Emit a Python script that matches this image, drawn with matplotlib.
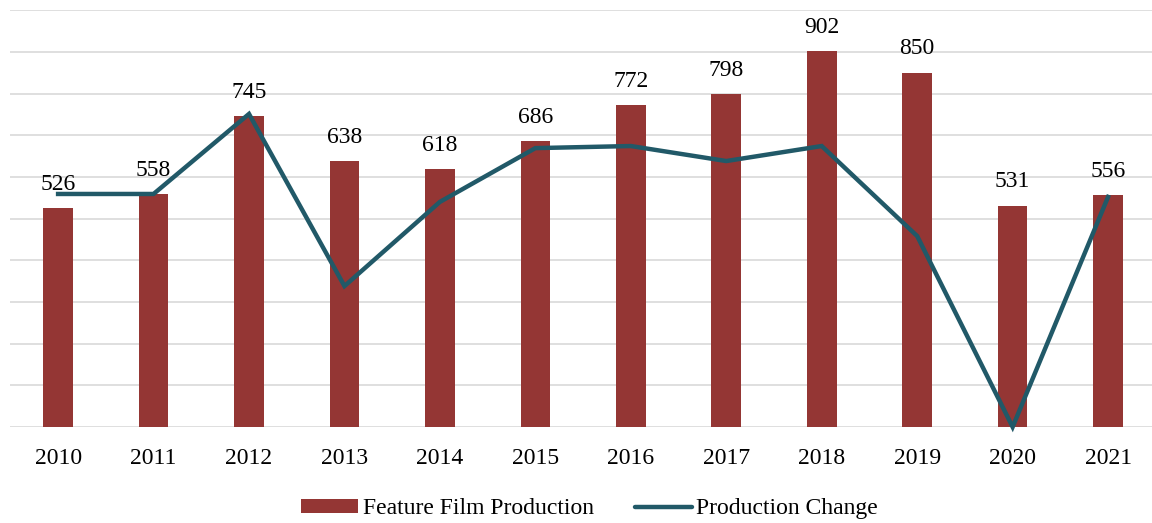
import matplotlib.pyplot as plt
from matplotlib.lines import Line2D
from matplotlib.patches import Patch

plt.rcParams['font.family'] = ['Liberation Serif', 'DejaVu Serif']

# Data.
years = ['2010', '2011', '2012', '2013', '2014', '2015',
         '2016', '2017', '2018', '2019', '2020', '2021']
production = [526, 558, 745, 638, 618, 686, 772, 798, 902, 850, 531, 556]
# Line on a hidden secondary axis (range -40 .. 60).
change = [15.9, 15.9, 35.1, -6.2, 14.0, 26.9, 27.4, 23.8, 27.4, 5.8, -40.0, 15.2]

bar_color = '#943634'
line_color = '#215968'
fs = 17

fig = plt.figure(figsize=(11.52, 5.23), dpi=100)
ax = fig.add_axes([0.009, 0.1836, 0.9943, 0.797])

x = list(range(len(years)))
ax.bar(x, production, width=0.31, color=bar_color, zorder=2)

ax.set_xlim(-0.5, len(years) - 0.5)
ax.set_ylim(0, 1000)
ax.set_yticks(range(0, 1001, 100))
ax.yaxis.grid(True, color='#d9d9d9', linewidth=1.2, zorder=0)
ax.set_axisbelow(True)
ax.set_xticks(x)
ax.set_xticklabels(years)
for s in ax.spines.values():
    s.set_visible(False)

for xi, v in zip(x, production):
    ax.annotate(str(v), (xi, v), xytext=(0, 9.5), textcoords='offset points',
                ha='center', va='bottom', fontsize=fs)

ax2 = ax.twinx()
ax2.set_ylim(-40, 60)
ax2.plot(x, change, color=line_color, linewidth=3.2, clip_on=False,
         solid_joinstyle='miter', zorder=3)
ax2.axis('off')

# twinx turns the left ticks back on, so set them after it
ax.tick_params(axis='y', left=False, right=False, labelleft=False, labelright=False)
ax.tick_params(axis='x', length=0, pad=15, labelsize=fs)

handles = [Patch(facecolor=bar_color, edgecolor='none'),
           Line2D([0], [0], color=line_color, linewidth=3.2, solid_capstyle='round')]
fig.legend(handles, ['Feature Film Production', 'Production Change'],
           loc='center', bbox_to_anchor=(0.512, 0.027), ncol=2, frameon=False,
           fontsize=fs, handlelength=2.4, handleheight=0.5, handletextpad=0.2,
           columnspacing=1.75)

fig.savefig('out.png', dpi=100)
